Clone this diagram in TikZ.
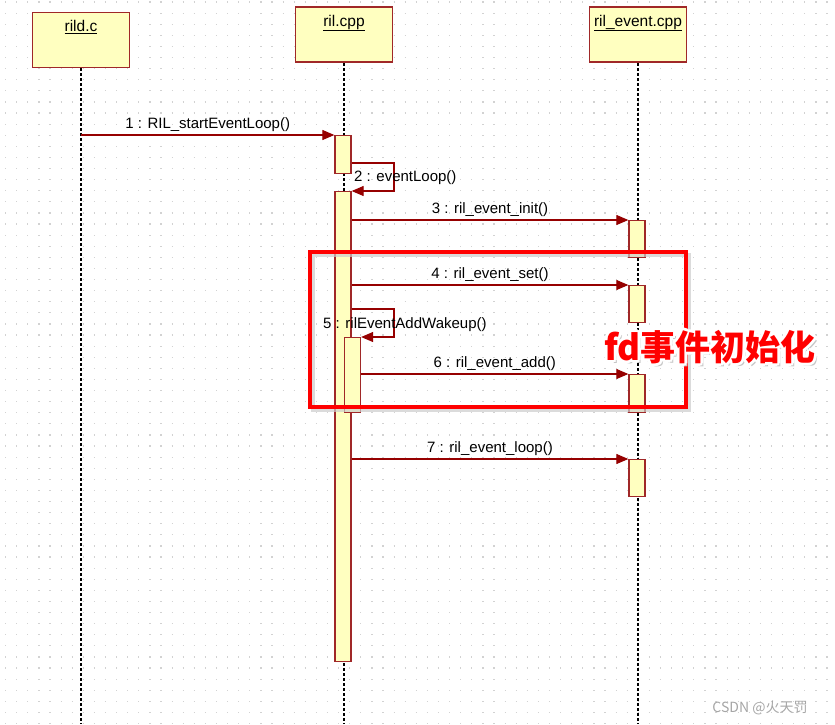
\documentclass[tikz,border=0pt]{standalone}
\usepackage{fontspec}
\setmainfont{Liberation Sans}
\newfontfamily\cjk{Noto Sans CJK SC}
\usepackage{xcolor}
\usetikzlibrary{arrows.meta,positioning}
\definecolor{boxred}{RGB}{160,40,40}
\definecolor{boxfill}{RGB}{255,255,192}
\definecolor{msgred}{RGB}{150,0,0}

\begin{document}
\begin{tikzpicture}[x=1pt, y=-1pt,
    head/.style={rectangle, draw=boxred, fill=boxfill, line width=1.5pt, minimum width=97pt, minimum height=55pt, inner sep=0pt},
    headtext/.style={anchor=north, yshift=-5pt, font=\fontsize{15.5}{17}\selectfont},
    act/.style={rectangle, draw=boxred, fill=boxfill, line width=1.3pt, minimum width=16pt, inner sep=0pt, anchor=north},
    life/.style={line width=2pt, dash pattern=on 3pt off 2pt},
    msg/.style={-{Triangle[length=12pt,width=10pt]}, draw=msgred, line width=1.1pt},
    lbl/.style={font=\fontsize{15}{17}\selectfont, inner sep=3pt},
    frame/.style={rectangle, draw=red, line width=4pt, minimum width=376pt, minimum height=155pt, inner sep=0pt},
    note/.style={font=\cjk\bfseries\fontsize{35}{40}\selectfont, inner sep=0pt}
]
    \fill[white] (0,0) rectangle (835,724);
    \useasboundingbox (0,0) rectangle (835,724);
    \foreach \r in {0,...,65}
        \draw[gray!35, line width=1.2pt, dash pattern=on 1.2pt off 9.9pt] (5,{2+\r*11.1}) -- (835,{2+\r*11.1});

    \node[head, label={[headtext]north:\underline{rild.c}}] (rild) at (81,40) {};
    \node[head, label={[headtext]north:\underline{ril.cpp}}] (ril) at (344,34.5) {};
    \node[head, label={[headtext]north:\underline{ril\_event.cpp}}] (event) at (638,34.5) {};

    \draw[life] (rild.south) -- (rild.south |- 0,724);
    \draw[life] (ril.south) -- (ril.south |- 0,724);
    \draw[life] (event.south) -- (event.south |- 0,724);

    \node[act, minimum height=38pt] (a1) at (343,135) {};
    \node[act, minimum height=470pt] (a2) at (343,191) {};
    \node[act, minimum height=37pt] (e1) at (637,220) {};
    \node[act, minimum height=37pt] (e2) at (637,285) {};
    \node[act, minimum height=75pt] (a3) at (352.5,337) {};
    \node[act, minimum height=38pt] (e3) at (637,374) {};
    \node[act, minimum height=37pt] (e4) at (637,459) {};

    \draw[msg] (rild.south |- a1.north) -- node[lbl, above] {1 : RIL\_startEventLoop()} (a1.north west);
    \draw[msg] (a1.east |- 0,163) -- (394,163) -- (394,191) -- (a2.north east);
    \node[lbl, anchor=west] (l2) at (351,178) {2 : eventLoop()};
    \draw[msg] (a2.east |- e1.north) -- node[lbl, above] {3 : ril\_event\_init()} (e1.north west);
    \draw[msg] (a2.east |- e2.north) -- node[lbl, above] {4 : ril\_event\_set()} (e2.north west);
    \draw[msg] (a2.east |- 0,309) -- (394,309) -- (394,337) -- (a3.north east);
    \node[lbl, anchor=west] (l5) at (320,325) {5 : rilEventAddWakeup()};
    \draw[msg] (a3.east |- e3.north) -- node[lbl, above] {6 : ril\_event\_add()} (e3.north west);
    \draw[msg] (a2.east |- e4.north) -- node[lbl, above] {7 : ril\_event\_loop()} (e4.north west);

    \draw[gray!40, line width=4pt, opacity=0.7] (313,255) rectangle (689,410);
    \node[frame] (group) at (498,329.5) {};

    \node[note, text=gray!45] at (713,350) {fd事件初始化};
    \foreach \a in {0,45,...,315}
        \node[note, text=white, shift={(\a:3pt)}] at (710,347) {fd事件初始化};
    \node[note, text=red] (callout) at (710,347) {fd事件初始化};

    \node[font=\cjk\fontsize{14}{16}\selectfont, text=gray!70] (mark) at (760,708) {CSDN @火天罚};
\end{tikzpicture}
\end{document}
